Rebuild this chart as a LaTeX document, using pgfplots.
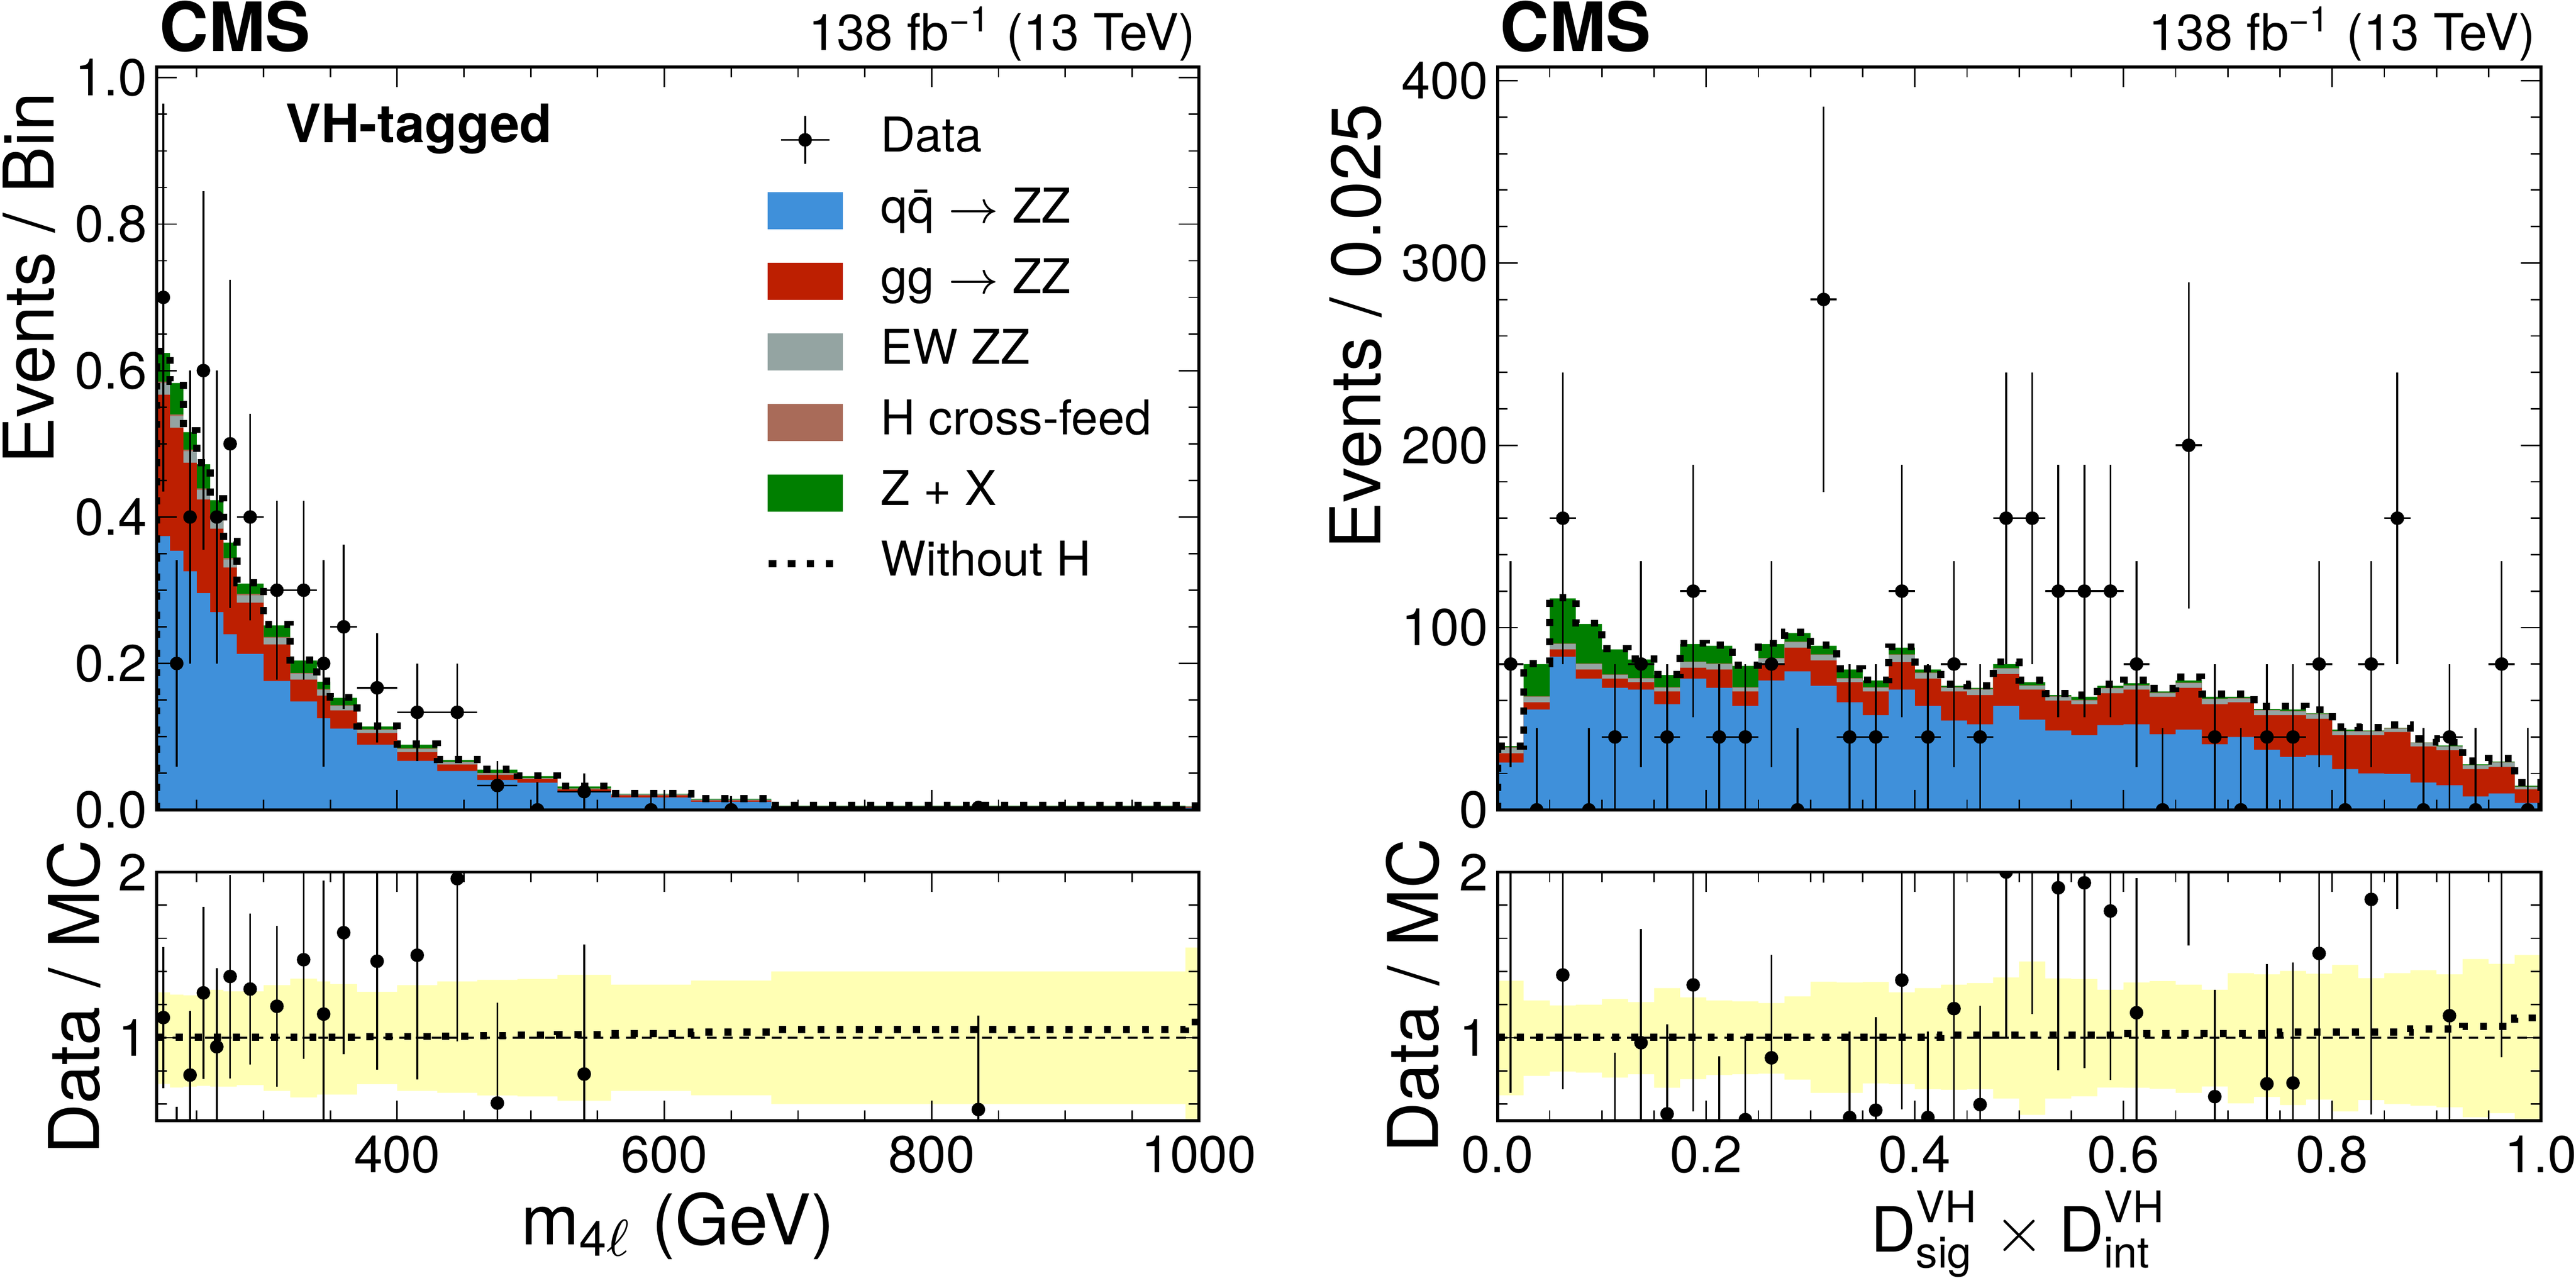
\documentclass[border=0pt]{standalone}
\usepackage{fontspec}
\setmainfont{TeX Gyre Heros}
\usepackage{amsmath}
\usepackage{pgfplots}
\usepackage{pgfplotstable}
\pgfplotsset{compat=1.18}

\definecolor{cqq}{HTML}{3F90DA}
\definecolor{cgg}{HTML}{BD1F01}
\definecolor{cew}{HTML}{94A4A2}
\definecolor{chx}{HTML}{A96B59}
\definecolor{czx}{HTML}{007F00}
\definecolor{cband}{HTML}{FFFFB4}
\newcommand{\labfont}{\fontsize{10.8}{13}\selectfont}

% left panel: bin left edges, cumulative stack tops, without-H, MC band, without-H ratio
\pgfplotstableread{
e    blue   red    gray   brown  green  noh    hi    lo    rnoh
220  0.374  0.567  0.583  0.585  0.624  0.6265 1.274 0.722 1.004
230  0.354  0.522  0.538  0.540  0.583  0.5853 1.260 0.700 1.004
240  0.326  0.474  0.490  0.492  0.516  0.5181 1.256 0.705 1.004
250  0.296  0.424  0.437  0.439  0.472  0.4739 1.290 0.710 1.004
260  0.270  0.384  0.397  0.399  0.423  0.4247 1.290 0.705 1.004
270  0.240  0.331  0.342  0.344  0.365  0.3665 1.280 0.705 1.004
280  0.213  0.283  0.293  0.295  0.309  0.3102 1.280 0.715 1.004
300  0.176  0.226  0.235  0.236  0.252  0.2530 1.317 0.680 1.004
320  0.148  0.178  0.186  0.187  0.204  0.2048 1.357 0.640 1.004
340  0.125  0.156  0.164  0.165  0.175  0.1757 1.340 0.657 1.004
350  0.111  0.136  0.142  0.143  0.153  0.1536 1.324 0.657 1.004
370  0.089  0.105  0.109  0.110  0.114  0.1147 1.277 0.720 1.006
400  0.067  0.079  0.083  0.084  0.089  0.0897 1.317 0.680 1.008
430  0.053  0.062  0.065  0.0655 0.068  0.0687 1.340 0.668 1.010
460  0.041  0.048  0.050  0.0505 0.055  0.0557 1.350 0.652 1.012
490  0.037  0.042  0.043  0.0435 0.046  0.0467 1.355 0.646 1.015
520  0.024  0.028  0.029  0.0293 0.032  0.0326 1.380 0.620 1.018
560  0.017  0.020  0.021  0.0212 0.022  0.0226 1.320 0.680 1.025
620  0.011  0.013  0.014  0.0141 0.015  0.0155 1.345 0.653 1.035
680  0.0035 0.0045 0.0050 0.0051 0.0057 0.0060 1.400 0.600 1.050
990  0.0030 0.0040 0.0044 0.0045 0.0050 0.0055 1.545 0.450 1.095
1000 0.0030 0.0040 0.0044 0.0045 0.0050 0.0055 1.545 0.450 1.095
}\lmain

\pgfplotstableread{
x    ex   y       eyp     eym
225  5    0.7     0.265   0.265
235  5    0.2     0.141   0.141
245  5    0.4     0.2     0.2
255  5    0.6     0.245   0.245
265  5    0.4     0.2     0.2
275  5    0.5     0.224   0.224
290  10   0.4     0.141   0.141
310  10   0.3     0.122   0.122
330  10   0.3     0.122   0.122
345  5    0.2     0.141   0.141
360  10   0.25    0.112   0.112
385  15   0.1667  0.0745  0.0745
415  15   0.1333  0.0667  0.0667
445  15   0.1333  0.0667  0.0667
475  15   0.0333  0.0333  0.0333
505  15   0       0.038   0
540  20   0.025   0.025   0.025
590  30   0       0.019   0
650  30   0       0.019   0
835  155  0.00323 0.00323 0.00323
}\ldata

\pgfplotstableread{
x    y     ey
225  1.122 0.425
235  0.343 0.242
245  0.775 0.388
255  1.271 0.519
265  0.946 0.473
275  1.370 0.614
290  1.294 0.456
310  1.190 0.484
330  1.471 0.598
345  1.143 0.806
360  1.634 0.732
385  1.462 0.654
415  1.498 0.749
445  1.960 0.981
475  0.606 0.606
540  0.781 0.781
835  0.567 0.567
}\lratio

% right panel
\pgfplotstableread{
e     blue  red   gray  brown green noh   hi    lo    rnoh
0.000 26    31    34    34.3  35    35.1  1.344 0.653 1.004
0.025 55    59    62    62.3  80    80.3  1.225 0.770 1.004
0.050 84    88    91    91.3  116   116.5 1.195 0.796 1.004
0.075 72    77    80    80.3  102   102.4 1.200 0.790 1.004
0.100 67    72    74    74.3  88    88.4  1.234 0.760 1.004
0.125 66    70    72    72.3  82.5  82.8  1.215 0.780 1.004
0.150 58    65    67    67.3  74    74.3  1.300 0.698 1.004
0.175 72    78    81    81.3  91    91.4  1.244 0.750 1.004
0.200 67    77    80    80.3  90    90.4  1.225 0.775 1.004
0.225 57    65    67    67.3  79    79.3  1.220 0.780 1.004
0.250 71    80    83    83.3  91    91.4  1.210 0.784 1.004
0.275 76    89    92    92.3  97    97.4  1.250 0.747 1.004
0.300 68    82    85    85.3  90    90.4  1.338 0.667 1.004
0.325 59    70    72    72.3  77    77.3  1.334 0.667 1.004
0.350 52    65    67    67.3  71    71.3  1.336 0.725 1.004
0.375 66    81    85    85.3  89    89.4  1.274 0.720 1.004
0.400 57    72    75    75.3  77    77.3  1.300 0.690 1.004
0.425 49    65    67    67.3  68    69.0  1.320 0.686 1.015
0.450 47    63    66    66.3  67    68.0  1.330 0.690 1.015
0.475 57    74.5  77.5  77.8  80    81.2  1.364 0.633 1.015
0.500 49.5  66    68    68.3  70    71.1  1.460 0.535 1.015
0.525 43.6  60    62    62.3  63    63.9  1.358 0.633 1.015
0.550 41    58    60    60.3  62    62.9  1.354 0.647 1.015
0.575 46.5  64    66.6  66.9  68    69.0  1.290 0.700 1.015
0.600 47    66    68    68.3  69.5  71.2  1.334 0.698 1.025
0.625 41.5  62    64    64.3  65    66.6  1.342 0.692 1.025
0.650 44    67    69.5  69.8  71    72.8  1.320 0.667 1.025
0.675 36    58    60.7  61.0  62    63.6  1.290 0.706 1.025
0.700 40    59    61    61.3  62    63.6  1.390 0.604 1.025
0.725 33    52    54.5  54.8  55.4  56.8  1.383 0.643 1.025
0.750 29    52    54    54.3  55    56.9  1.403 0.594 1.035
0.775 30    50    52.4  52.7  53    54.9  1.387 0.627 1.035
0.800 22.4  41    43    43.3  44    45.5  1.440 0.555 1.035
0.825 20    41    43    43.3  43.6  45.1  1.360 0.624 1.035
0.850 19.7  42.7  44.5  44.8  45    46.6  1.390 0.600 1.035
0.875 15    34.8  36.8  36.9  37    38.9  1.407 0.590 1.052
0.900 13.5  32.7  34.8  34.9  35.3  37.1  1.383 0.580 1.052
0.925 7.4   22.4  24.4  24.5  25    26.7  1.475 0.520 1.068
0.950 9     23.6  26    26.1  26.5  28.3  1.446 0.545 1.068
0.975 3.8   11.2  12.7  12.8  13.3  14.9  1.500 0.450 1.120
1.000 3.8   11.2  12.7  12.8  13.3  14.9  1.500 0.450 1.120
}\rmain

\pgfplotstableread{
x      ex     y    eyp   eym
0.0125 0.0125 80   56.6  56.6
0.0375 0.0125 0    45    0
0.0625 0.0125 160  80    80
0.0875 0.0125 0    45    0
0.1125 0.0125 40   40    40
0.1375 0.0125 80   56.6  56.6
0.1625 0.0125 40   40    40
0.1875 0.0125 120  69.3  69.3
0.2125 0.0125 40   40    40
0.2375 0.0125 40   40    40
0.2625 0.0125 80   56.6  56.6
0.2875 0.0125 0    45    0
0.3125 0.0125 280  105.8 105.8
0.3375 0.0125 40   40    40
0.3625 0.0125 40   40    40
0.3875 0.0125 120  69.3  69.3
0.4125 0.0125 40   40    40
0.4375 0.0125 80   56.6  56.6
0.4625 0.0125 40   40    40
0.4875 0.0125 160  80    80
0.5125 0.0125 160  80    80
0.5375 0.0125 120  69.3  69.3
0.5625 0.0125 120  69.3  69.3
0.5875 0.0125 120  69.3  69.3
0.6125 0.0125 80   56.6  56.6
0.6375 0.0125 0    45    0
0.6625 0.0125 200  89.4  89.4
0.6875 0.0125 40   40    40
0.7125 0.0125 0    45    0
0.7375 0.0125 40   40    40
0.7625 0.0125 40   40    40
0.7875 0.0125 80   56.6  56.6
0.8125 0.0125 0    45    0
0.8375 0.0125 80   56.6  56.6
0.8625 0.0125 160  80    80
0.8875 0.0125 0    45    0
0.9125 0.0125 40   40    40
0.9375 0.0125 0    45    0
0.9625 0.0125 80   56.6  56.6
0.9875 0.0125 0    45    0
}\rdata

\pgfplotstableread{
x      y     ey
0.0125 2.286 1.617
0.0625 1.379 0.690
0.1125 0.455 0.455
0.1375 0.970 0.686
0.1625 0.541 0.541
0.1875 1.319 0.762
0.2125 0.444 0.444
0.2375 0.506 0.506
0.2625 0.879 0.622
0.3125 3.111 1.176
0.3375 0.519 0.519
0.3625 0.563 0.563
0.3875 1.348 0.779
0.4125 0.519 0.519
0.4375 1.176 0.832
0.4625 0.597 0.597
0.4875 2.000 1.000
0.5125 2.286 1.143
0.5375 1.905 1.100
0.5625 1.935 1.118
0.5875 1.765 1.019
0.6125 1.151 0.814
0.6625 2.817 1.259
0.6875 0.645 0.645
0.7375 0.722 0.722
0.7625 0.727 0.727
0.7875 1.509 1.068
0.8375 1.835 1.298
0.8625 3.556 1.778
0.9125 1.133 1.133
0.9625 3.019 2.136
}\rratio

\pgfplotsset{
  /pgf/number format/assume math mode=true,
  cmsaxis/.style={
    scale only axis, axis on top, clip mode=individual, clip marker paths=true,
    axis line style={line width=0.46pt},
    every tick/.style={line width=0.22pt, black},
    major tick length=3.1pt, minor tick length=1.55pt,
    tick align=inside,
    tick label style={font=\fontsize{8.0}{9}\selectfont},
    yticklabel style={inner sep=0pt, xshift=-1.3pt},
    xticklabel style={inner sep=0pt, yshift=-2.1pt},
  },
  stackfill/.style={const plot mark left, draw=none, fill=#1, forget plot},
  nohline/.style={const plot mark left, black, line width=1.1pt, dash pattern=on 1.1pt off 1.85pt, forget plot},
  dataplot/.style={forget plot, only marks, mark=*, mark size=0.85pt, black,
    error bars/.cd, x dir=both, x explicit, y dir=both, y explicit,
    error bar style={line width=0.28pt}, error mark=none},
  ratioplot/.style={forget plot, only marks, mark=*, mark size=0.85pt, black,
    error bars/.cd, y dir=both, y explicit,
    error bar style={line width=0.28pt}, error mark=none},
}

\begin{document}
\begin{tikzpicture}
\useasboundingbox (0pt,0pt) rectangle (397.95pt,198.1pt);

% ---------------- left main ----------------
\begin{axis}[cmsaxis, at={(24.2pt,73pt)}, anchor=south west,
  width=161pt, height=114.75pt,
  xmin=220, xmax=1000, ymin=0, ymax=1.0146,
  xtick={400,600,800,1000}, xticklabels={,,,},
  minor xtick={250,300,350,450,500,550,650,700,750,850,900,950},
  ytick={0,0.2,0.4,0.6,0.8,1.0}, yticklabels={0.0,0.2,0.4,0.6,0.8,1.0},
  minor y tick num=3,
  ylabel={Events / Bin},
  every axis y label/.style={at={(rel axis cs:-0.0988,0.9965)}, anchor=base east, rotate=90, font=\labfont},
  legend cell align=left,
  legend style={at={(0.5839,0.9351)}, anchor=north west, draw=none, fill=none,
    inner sep=0pt, outer sep=0pt, font=\fontsize{7.4}{8.9}\selectfont,
    row sep=3.4pt, nodes={inner sep=0pt, text height=5.6pt, text depth=1.9pt},
    /tikz/every odd column/.append style={column sep=5.9pt}},
]
\addlegendimage{black, legend image code/.code={
  \draw[black, line width=0.28pt] (1.875pt,0pt)--(9.325pt,0pt);
  \draw[black, line width=0.28pt] (5.6pt,-3.67pt)--(5.6pt,3.67pt);
  \fill[black] (5.6pt,0pt) circle (0.85pt);
  \path[draw=none] (0pt,0pt)--(11.2pt,0pt);}}
\addlegendentry{Data}
\addlegendimage{legend image code/.code={\fill[cqq] (0pt,-2.675pt) rectangle (11.2pt,2.675pt);}}
\addlegendentry{q\={q} $\rightarrow$ ZZ}
\addlegendimage{legend image code/.code={\fill[cgg] (0pt,-2.675pt) rectangle (11.2pt,2.675pt);}}
\addlegendentry{gg $\rightarrow$ ZZ}
\addlegendimage{legend image code/.code={\fill[cew] (0pt,-2.675pt) rectangle (11.2pt,2.675pt);}}
\addlegendentry{EW ZZ}
\addlegendimage{legend image code/.code={\fill[chx] (0pt,-2.675pt) rectangle (11.2pt,2.675pt);}}
\addlegendentry{H cross-feed}
\addlegendimage{legend image code/.code={\fill[czx] (0pt,-2.675pt) rectangle (11.2pt,2.675pt);}}
\addlegendentry{Z + X}
\addlegendimage{black, legend image code/.code={
  \draw[black, line width=1.15pt, dash pattern=on 1.15pt off 1.78pt] (0pt,0pt)--(10pt,0pt);
  \path[draw=none] (0pt,0pt)--(11.2pt,0pt);}}
\addlegendentry{Without H}

\addplot[stackfill=czx] table[x=e,y=green]{\lmain} \closedcycle;
\addplot[stackfill=chx] table[x=e,y=brown]{\lmain} \closedcycle;
\addplot[stackfill=cew] table[x=e,y=gray]{\lmain} \closedcycle;
\addplot[stackfill=cgg] table[x=e,y=red]{\lmain} \closedcycle;
\addplot[stackfill=cqq] table[x=e,y=blue]{\lmain} \closedcycle;
\addplot[nohline] coordinates {(220,0) (220,0.6265)};
\addplot[nohline] table[x=e,y=noh]{\lmain};
\addplot[dataplot] table[x=x,y=y,x error=ex,y error plus=eyp,y error minus=eym]{\ldata};

\node[anchor=base west, inner sep=0pt, font=\bfseries\fontsize{10.5}{12}\selectfont] at (rel axis cs:0.0016,1.0214) {CMS};
\node[anchor=base east, inner sep=0pt, font=\fontsize{7.8}{9}\selectfont] at (rel axis cs:0.998,1.0227) {138 fb\textsuperscript{−1} (13 TeV)};
\node[anchor=base west, inner sep=0pt, font=\bfseries\fontsize{8.2}{10}\selectfont] at (rel axis cs:0.1227,0.8985) {VH-tagged};
\end{axis}

% ---------------- left ratio ----------------
\begin{axis}[cmsaxis, at={(24.2pt,25pt)}, anchor=south west,
  width=161pt, height=38.4pt,
  xmin=220, xmax=1000, ymin=0.5, ymax=2,
  xtick={400,600,800,1000}, xticklabels={400,600,800,1000},
  minor xtick={250,300,350,450,500,550,650,700,750,850,900,950},
  ytick={1,2}, yticklabels={1,2},
  minor ytick={0.6,0.8,1.2,1.4,1.6,1.8},
  ylabel={Data / MC},
  every axis y label/.style={at={(rel axis cs:-0.0553,0.497)}, anchor=base, rotate=90, font=\labfont},
  xlabel={m\textsubscript{4$\ell$} (GeV)},
  every axis x label/.style={at={(rel axis cs:0.5,-0.4987)}, anchor=base, font=\labfont},
]
\addplot[const plot mark left, draw=none, fill=cband, forget plot] table[x=e,y=hi]{\lmain} \closedcycle;
\addplot[const plot mark left, draw=none, fill=white, forget plot] table[x=e,y=lo]{\lmain} \closedcycle;
\addplot[black, line width=0.3pt, dash pattern=on 1.5pt off 1pt, forget plot] coordinates {(220,1) (1000,1)};
\addplot[nohline] table[x=e,y=rnoh]{\lmain};
\addplot[ratioplot] table[x=x,y=y,y error=ey]{\lratio};
\end{axis}

% ---------------- right main ----------------
\begin{axis}[cmsaxis, at={(231.35pt,73pt)}, anchor=south west,
  width=161.15pt, height=114.75pt,
  xmin=0, xmax=1, ymin=0, ymax=407.5,
  xtick={0,0.2,0.4,0.6,0.8,1}, xticklabels={,,,,,}, minor x tick num=3,
  ytick={0,100,200,300,400}, yticklabels={0,100,200,300,400},
  minor y tick num=4,
  ylabel={Events / 0.025},
  every axis y label/.style={at={(rel axis cs:-0.1123,0.9817)}, anchor=base east, rotate=90, font=\labfont},
]
\addplot[stackfill=czx] table[x=e,y=green]{\rmain} \closedcycle;
\addplot[stackfill=chx] table[x=e,y=brown]{\rmain} \closedcycle;
\addplot[stackfill=cew] table[x=e,y=gray]{\rmain} \closedcycle;
\addplot[stackfill=cgg] table[x=e,y=red]{\rmain} \closedcycle;
\addplot[stackfill=cqq] table[x=e,y=blue]{\rmain} \closedcycle;
\addplot[nohline] coordinates {(0,0) (0,35.1)};
\addplot[nohline] coordinates {(1,0) (1,14.9)};
\addplot[nohline] table[x=e,y=noh]{\rmain};
\addplot[dataplot] table[x=x,y=y,x error=ex,y error plus=eyp,y error minus=eym]{\rdata};

\node[anchor=base west, inner sep=0pt, font=\bfseries\fontsize{10.5}{12}\selectfont] at (rel axis cs:0.0012,1.0214) {CMS};
\node[anchor=base east, inner sep=0pt, font=\fontsize{7.8}{9}\selectfont] at (rel axis cs:0.996,1.0227) {138 fb\textsuperscript{−1} (13 TeV)};
\end{axis}

% ---------------- right ratio ----------------
\begin{axis}[cmsaxis, at={(231.35pt,25pt)}, anchor=south west,
  width=161.15pt, height=38.4pt,
  xmin=0, xmax=1, ymin=0.5, ymax=2,
  xtick={0,0.2,0.4,0.6,0.8,1}, xticklabels={0.0,0.2,0.4,0.6,0.8,1.0},
  minor x tick num=3,
  ytick={1,2}, yticklabels={1,2},
  minor ytick={0.6,0.8,1.2,1.4,1.6,1.8},
  ylabel={Data / MC},
  every axis y label/.style={at={(rel axis cs:-0.0568,0.504)}, anchor=base, rotate=90, font=\labfont},
  xlabel={$\text{D}^{\text{VH}}_{\text{sig}}\times\text{D}^{\text{VH}}_{\text{int}}$},
  every axis x label/.style={at={(rel axis cs:0.5,-0.527)}, anchor=base, font=\fontsize{9.6}{12}\selectfont},
]
\addplot[const plot mark left, draw=none, fill=cband, forget plot] table[x=e,y=hi]{\rmain} \closedcycle;
\addplot[const plot mark left, draw=none, fill=white, forget plot] table[x=e,y=lo]{\rmain} \closedcycle;
\addplot[black, line width=0.3pt, dash pattern=on 1.5pt off 1pt, forget plot] coordinates {(0,1) (1,1)};
\addplot[nohline] table[x=e,y=rnoh]{\rmain};
\addplot[ratioplot] table[x=x,y=y,y error=ey]{\rratio};
\end{axis}
\end{tikzpicture}
\end{document}
